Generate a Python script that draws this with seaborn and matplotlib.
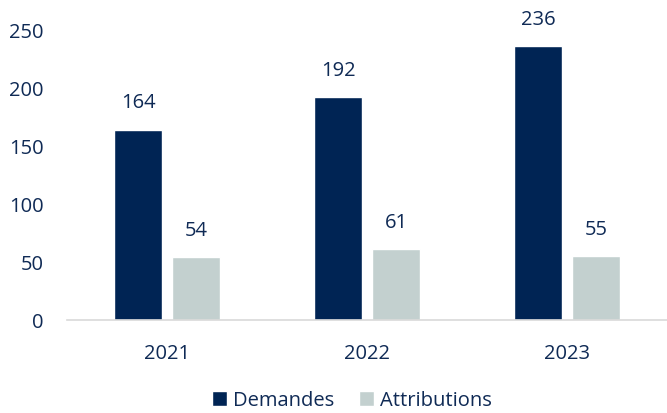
import matplotlib
matplotlib.use("Agg")

import matplotlib.pyplot as plt
import seaborn as sns
import pandas as pd

# Données du graphique
annees = ["2021", "2022", "2023"]
demandes = [164, 192, 236]
attributions = [54, 61, 55]
series = ["Demandes", "Attributions"]

couleur_demandes = "#002454"
couleur_attributions = "#c3d0cf"
couleur_texte = "#0f2a55"

df = pd.DataFrame({
    "Année": annees * 2,
    "Série": [series[0]] * 3 + [series[1]] * 3,
    "Valeur": demandes + attributions,
})

sns.set_style("white")
plt.rcParams["font.family"] = ["Open Sans", "DejaVu Sans"]

fig = plt.figure(figsize=(6.67, 4.13), dpi=100)
ax = fig.add_axes([67 / 667, 93 / 413, 600 / 667, 290 / 413])

sns.barplot(
    data=df,
    x="Année",
    y="Valeur",
    hue="Série",
    palette=[couleur_demandes, couleur_attributions],
    width=0.58,
    gap=0.17,
    saturation=1,
    ax=ax,
)

# Étiquettes de valeurs au-dessus des barres
for container in ax.containers:
    ax.bar_label(container, padding=12, fontsize=14.5, color=couleur_texte, clip_on=False)

ax.set_ylim(0, 250)
ax.set_xlim(-0.5, 2.5)
ax.set_yticks([0, 50, 100, 150, 200, 250])
ax.set_xlabel("")
ax.set_ylabel("")

ax.tick_params(axis="y", length=0, pad=17, labelsize=14.5, labelcolor=couleur_texte)
ax.tick_params(axis="x", length=0, pad=17, labelsize=14.5, labelcolor=couleur_texte)

for cote in ["top", "right", "left"]:
    ax.spines[cote].set_visible(False)
ax.spines["bottom"].set_color("#d9d9d9")
ax.spines["bottom"].set_linewidth(1.2)

leg = ax.legend(
    loc="lower center",
    bbox_to_anchor=(0.475, -0.375),
    ncol=2,
    frameon=False,
    fontsize=14.5,
    handlelength=0.75,
    handleheight=0.75,
    handletextpad=0.3,
    columnspacing=1.2,
)
for t in leg.get_texts():
    t.set_color(couleur_texte)

fig.savefig("out.png", dpi=100)
plt.close()
